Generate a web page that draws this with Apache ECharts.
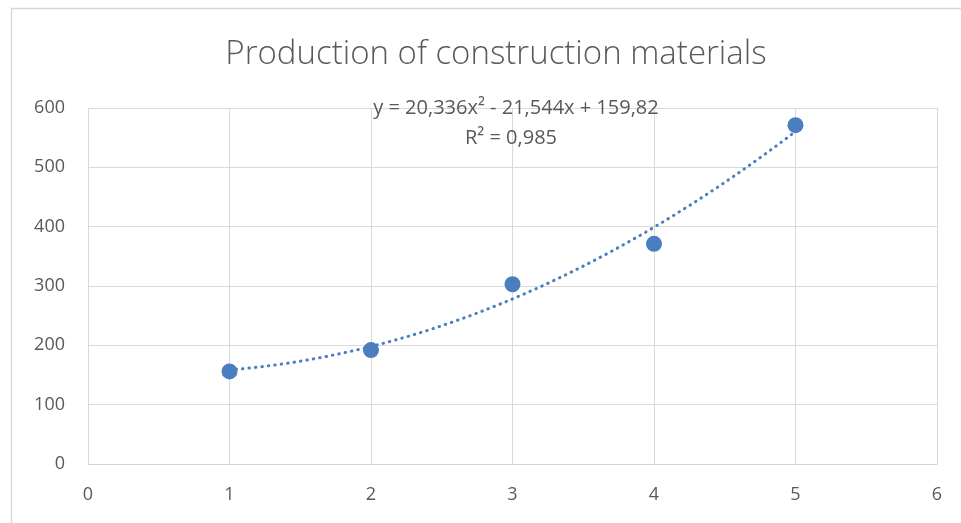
<!DOCTYPE html>
<html>
<head>
<meta charset="utf-8">
<style>
  html, body { margin: 0; padding: 0; background: #fff; }
  #chart { width: 961px; height: 523px; }
</style>
<script src="https://cdn.jsdelivr.net/npm/echarts@6/dist/echarts.min.js"></script>
</head>
<body>
<div id="chart"></div>
<script>
// Observed production volumes by period
const periods = [1, 2, 3, 4, 5];
const production = [156, 192, 303, 371, 571];

// Polynomial (order 2) trendline coefficients: a*x^2 + b*x + c
const trendCoef = [20.336, -21.544, 159.82];
const trendLabel = ['y = 20,336x² - 21,544x + 159,82', 'R² = 0,985'];

const xTicks = [0, 1, 2, 3, 4, 5, 6];
const yTicks = [0, 100, 200, 300, 400, 500, 600];

const pointData = periods.map((x, i) => [x, production[i]]);

// Sample the fitted curve across the observed range
const trendData = [];
for (let k = 0; k <= 80; k++) {
  const x = periods[0] + (periods[periods.length - 1] - periods[0]) * k / 80;
  trendData.push([x, trendCoef[0] * x * x + trendCoef[1] * x + trendCoef[2]]);
}

const FONT = '"Open Sans", "Noto Sans", sans-serif';
const chart = echarts.init(document.getElementById('chart'));
chart.setOption({
  backgroundColor: '#ffffff',
  animation: false,
  title: {
    text: 'Production of construction materials',
    left: 491,
    top: 33,
    textAlign: 'center',
    textStyle: { fontFamily: FONT, fontSize: 33, fontWeight: 300, color: '#595959' }
  },
  grid: { left: 88, right: 24, top: 108, bottom: 59 },
  xAxis: {
    type: 'value',
    min: xTicks[0],
    max: xTicks[xTicks.length - 1],
    interval: 1,
    axisLine: { show: true, lineStyle: { color: '#d4d4d4', width: 1 } },
    axisTick: { show: false },
    axisLabel: { color: '#595959', fontFamily: FONT, fontSize: 18, margin: 22 },
    splitLine: { show: true, lineStyle: { color: '#d9d9d9', width: 1 } }
  },
  yAxis: {
    type: 'value',
    min: yTicks[0],
    max: yTicks[yTicks.length - 1],
    interval: 100,
    axisLine: { show: false },
    axisTick: { show: false },
    axisLabel: { color: '#595959', fontFamily: FONT, fontSize: 18, margin: 23 },
    splitLine: { show: true, lineStyle: { color: '#d9d9d9', width: 1 } }
  },
  graphic: [
    {
      type: 'rect',
      shape: { x: 11.5, y: 8.5, width: 1000, height: 600 },
      style: { fill: 'none', stroke: '#d9d9d9', lineWidth: 1.5 },
      silent: true, z: -1
    },
    {
      type: 'text',
      style: {
        x: 516, y: 108, text: trendLabel[0], textAlign: 'center', textVerticalAlign: 'middle',
        fontFamily: FONT, fontSize: 20, fill: '#595959'
      }, z: 10
    },
    {
      type: 'text',
      style: {
        x: 511, y: 138, text: trendLabel[1], textAlign: 'center', textVerticalAlign: 'middle',
        fontFamily: FONT, fontSize: 20, fill: '#595959'
      }, z: 10
    }
  ],
  series: [
    {
      name: 'Trend',
      type: 'line',
      data: trendData,
      showSymbol: false,
      smooth: false,
      lineStyle: { color: '#4a7ebf', width: 3, type: [0.5, 6], cap: 'round' },
      z: 2
    },
    {
      name: 'Production',
      type: 'scatter',
      data: pointData,
      symbolSize: 16,
      itemStyle: { color: '#4a7ebf', opacity: 1 },
      z: 3
    }
  ]
});
</script>
</body>
</html>
